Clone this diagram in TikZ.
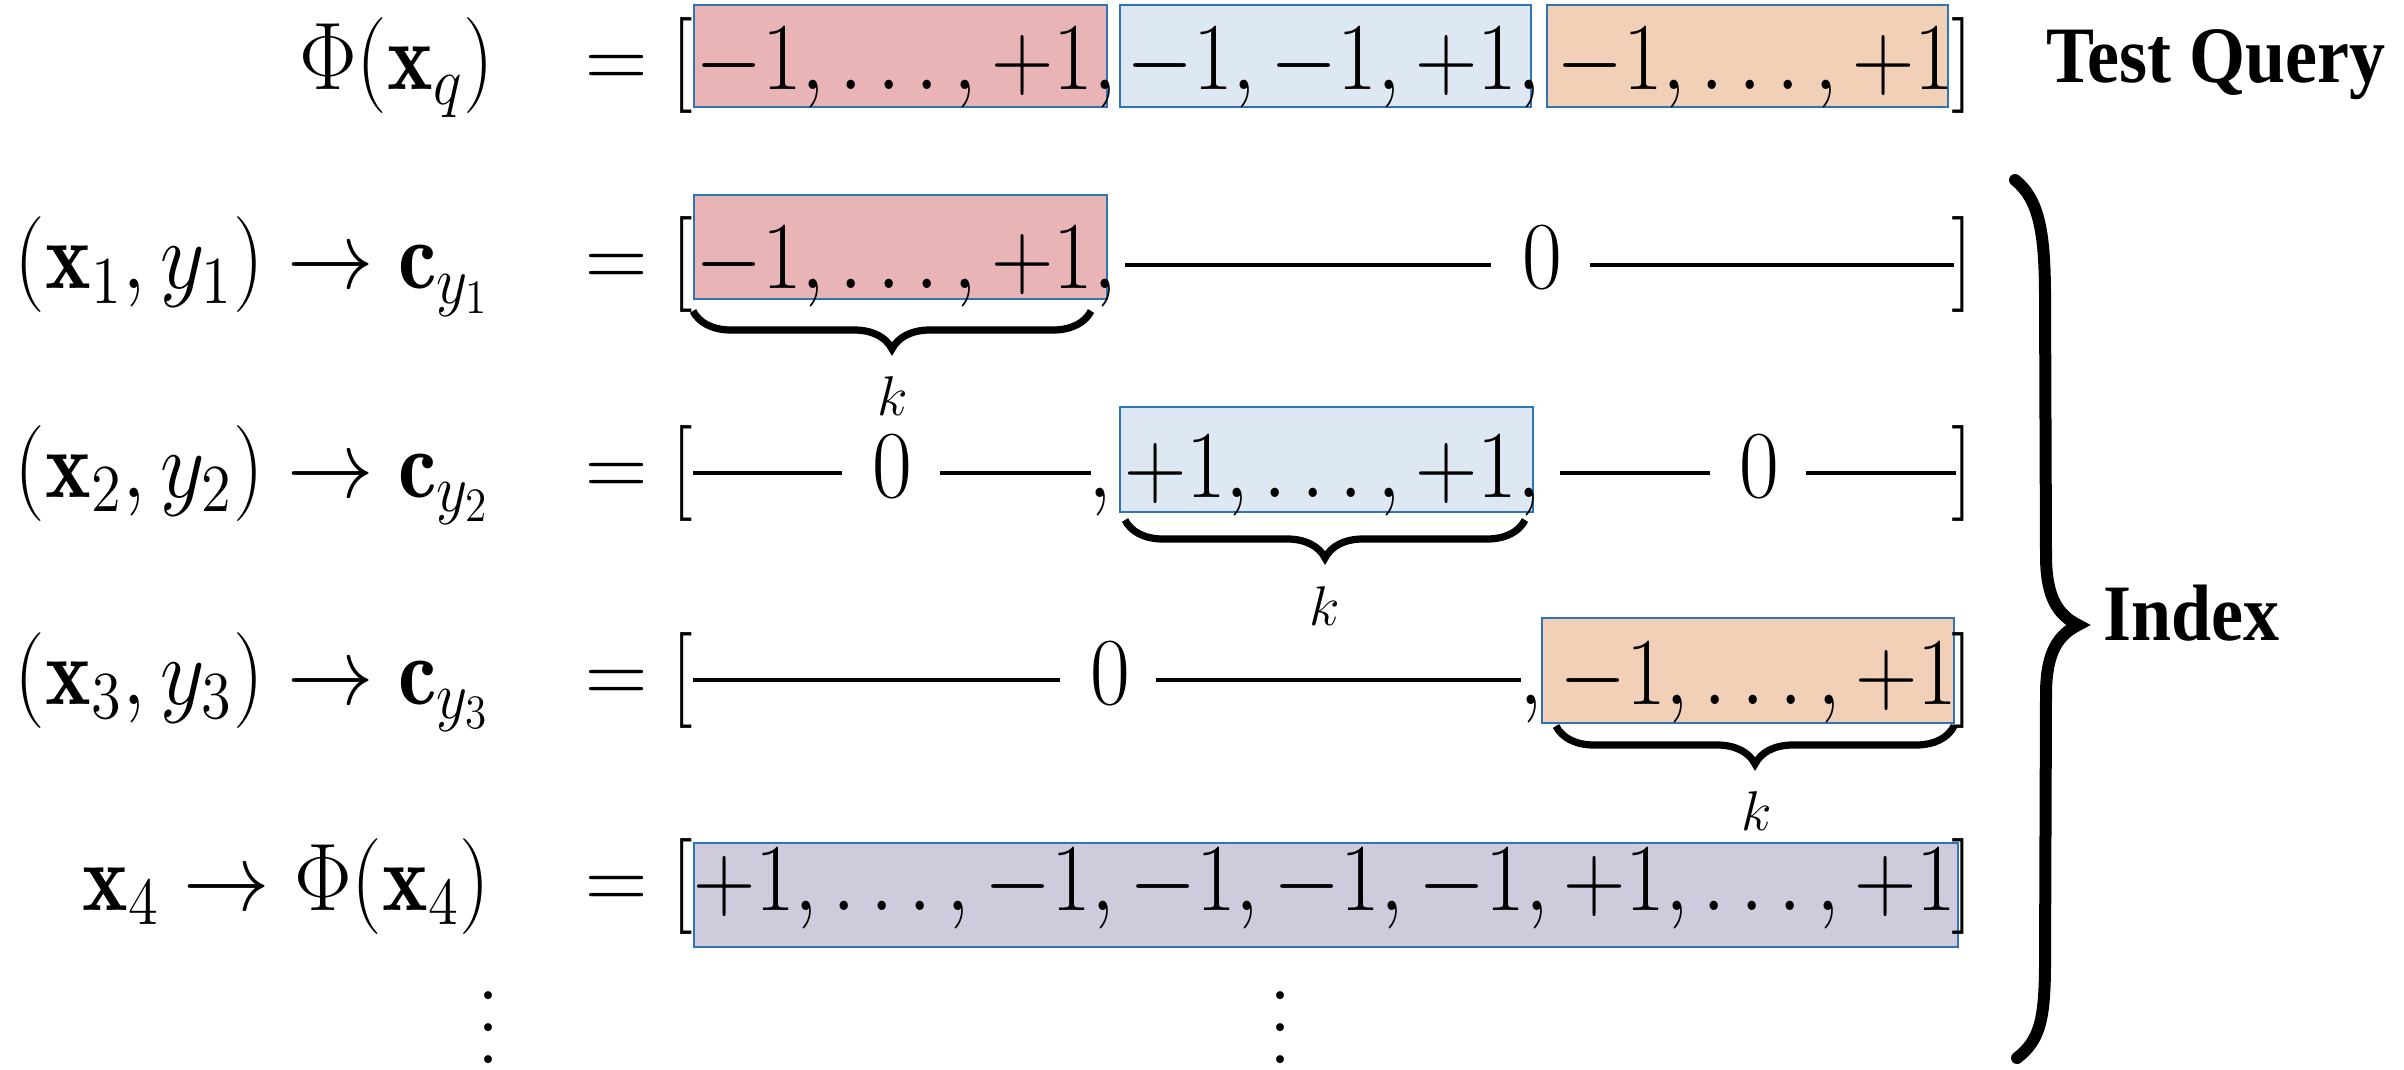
\RequirePackage{fix-cm}
\documentclass[tikz,border=0pt]{standalone}
\usepackage{fontspec}
\usepackage{graphicx}
\usetikzlibrary{decorations.pathreplacing}
\newfontfamily\tnrfont{Liberation Serif}
\definecolor{redbox}{HTML}{E8B4B5}
\definecolor{bluebox}{HTML}{DEE8F3}
\definecolor{orangebox}{HTML}{F2D0B8}
\definecolor{purplebox}{HTML}{D0CBDC}
\definecolor{boxline}{HTML}{2E75B6}
\newcommand\sqz[1]{\scalebox{0.9}[1]{$#1$}}
\newcommand\myvdots{\vbox{\baselineskip=8pt\lineskiplimit=0pt\hbox{.}\hbox{.}\hbox{.}}}
\begin{document}
\begin{tikzpicture}[x=0.25pt,y=-0.25pt,
  mth/.style={inner sep=0pt, outer sep=0pt, font=\fontsize{24}{28}\selectfont},
  lbl/.style={inner sep=0pt, outer sep=0pt, font=\tnrfont\bfseries\fontsize{20}{24}\selectfont},
  kk/.style={inner sep=0pt, font=\fontsize{14}{16}\selectfont},
  hbox/.style={draw=boxline, line width=0.5pt},
  zline/.style={line width=1pt},
  ubrace/.style={decorate, decoration={brace, mirror, amplitude=9.5pt}, line width=1.8pt},
  bigbrace/.style={line width=3pt, line cap=round}]
\useasboundingbox (0,0) rectangle (2404,1069);

% coloured boxes
\draw[hbox, fill=redbox]    (694,5)   rectangle (1107,107);
\draw[hbox, fill=bluebox]   (1120,5)  rectangle (1531,107);
\draw[hbox, fill=orangebox] (1547,5)  rectangle (1948,107);
\draw[hbox, fill=redbox]    (694,195) rectangle (1107,299);
\draw[hbox, fill=bluebox]   (1120,407) rectangle (1533,512);
\draw[hbox, fill=orangebox] (1542,618) rectangle (1954,723);
\draw[hbox, fill=purplebox] (694,843) rectangle (1958,947);

% Row q
\node[mth, anchor=base east] (lq) at (494,90) {\sqz{\Phi(\mathbf{x}_q)}};
\node[mth, anchor=base] (eqq) at (617,90) {\sqz{=}};
\node[mth, anchor=base west] (oq) at (671,90) {\sqz{[}};
\node[mth, anchor=base west] (q1) at (695,90) {\sqz{-1,\ldots,+1,}};
\node[mth, anchor=base west] (q2) at (1126,90) {\sqz{-1,-1,+1,}};
\node[mth, anchor=base west] (q3) at (1556,90) {\sqz{-1,\ldots,+1}};
\node[mth, anchor=base west] (cq) at (1951,90) {\sqz{]}};
\node[lbl, anchor=base west] (tq) at (2046,83) {\scalebox{0.9}[1]{Test Query}};

% Row 1
\node[mth, anchor=base east] (l1) at (490,289) {\sqz{(\mathbf{x}_1,y_1)\rightarrow\mathbf{c}_{y_1}}};
\node[mth, anchor=base] (eq1) at (617,289) {\sqz{=}};
\node[mth, anchor=base west] (o1) at (671,289) {\sqz{[}};
\node[mth, anchor=base west] (r1) at (695,289) {\sqz{-1,\ldots,+1,}};
\coordinate (z1a) at (1125,265); \coordinate (z1b) at (1491,265);
\node[mth, anchor=base] (n1) at (1542,289) {\sqz{0}};
\coordinate (z1c) at (1590,265); \coordinate (z1d) at (1954,265);
\draw[zline] (z1a) -- (z1b);
\draw[zline] (z1c) -- (z1d);
\node[mth, anchor=base west] (c1) at (1951,289) {\sqz{]}};
\coordinate (b1l) at (693,311); \coordinate (b1r) at (1091,311);
\draw[ubrace] (b1l) -- (b1r);
\node[kk] (k1) at (893,396) {$k$};

% Row 2
\node[mth, anchor=base east] (l2) at (490,497) {\sqz{(\mathbf{x}_2,y_2)\rightarrow\mathbf{c}_{y_2}}};
\node[mth, anchor=base] (eq2) at (617,497) {\sqz{=}};
\node[mth, anchor=base west] (o2) at (671,497) {\sqz{[}};
\coordinate (z2a) at (693,473); \coordinate (z2b) at (842,473);
\node[mth, anchor=base] (n2a) at (892,497) {\sqz{0}};
\coordinate (z2c) at (940,473); \coordinate (z2d) at (1091,473);
\draw[zline] (z2a) -- (z2b);
\draw[zline] (z2c) -- (z2d);
\node[mth, anchor=base west] (cm2) at (1088,497) {\sqz{,}};
\node[mth, anchor=base west] (r2) at (1124,497) {\sqz{+1,\ldots,+1,}};
\coordinate (z2e) at (1560,473); \coordinate (z2f) at (1710,473);
\node[mth, anchor=base] (n2b) at (1759,497) {\sqz{0}};
\coordinate (z2g) at (1806,473); \coordinate (z2h) at (1956,473);
\draw[zline] (z2e) -- (z2f);
\draw[zline] (z2g) -- (z2h);
\node[mth, anchor=base west] (c2) at (1951,497) {\sqz{]}};
\coordinate (b2l) at (1125,520); \coordinate (b2r) at (1525,520);
\draw[ubrace] (b2l) -- (b2r);
\node[kk] (k2) at (1325,606) {$k$};

% Row 3
\node[mth, anchor=base east] (l3) at (490,704) {\sqz{(\mathbf{x}_3,y_3)\rightarrow\mathbf{c}_{y_3}}};
\node[mth, anchor=base] (eq3) at (617,704) {\sqz{=}};
\node[mth, anchor=base west] (o3) at (671,704) {\sqz{[}};
\coordinate (z3a) at (693,680); \coordinate (z3b) at (1060,680);
\node[mth, anchor=base] (n3) at (1110,704) {\sqz{0}};
\coordinate (z3c) at (1156,680); \coordinate (z3d) at (1521,680);
\draw[zline] (z3a) -- (z3b);
\draw[zline] (z3c) -- (z3d);
\node[mth, anchor=base west] (cm3) at (1519,704) {\sqz{,}};
\node[mth, anchor=base west] (r3) at (1559,704) {\sqz{-1,\ldots,+1}};
\node[mth, anchor=base west] (c3) at (1951,704) {\sqz{]}};
\coordinate (b3l) at (1556,726); \coordinate (b3r) at (1954,726);
\draw[ubrace] (b3l) -- (b3r);
\node[kk] (k3) at (1757,811) {$k$};

% Row 4
\node[mth, anchor=base east] (l4) at (490,910) {\sqz{\mathbf{x}_4\rightarrow\Phi(\mathbf{x}_4)}};
\node[mth, anchor=base] (eq4) at (617,910) {\sqz{=}};
\node[mth, anchor=base west] (o4) at (671,910) {\sqz{[}};
\node[mth, anchor=base west] (r4) at (693,910) {\sqz{+1,\ldots,-1,-1,-1,-1,+1,\ldots,+1}};
\node[mth, anchor=base west] (c4) at (1951,910) {\sqz{]}};

% vertical dots
\node[mth, anchor=base] (d1) at (488,1063) {\myvdots};
\node[mth, anchor=base] (d2) at (1280,1063) {\myvdots};

% big brace and label
\draw[bigbrace] (2015,180) .. controls (2040,200) and (2045,235) .. (2045,300)
  -- (2046,560) .. controls (2047,598) and (2058,615) .. (2078,625)
  .. controls (2058,635) and (2047,652) .. (2046,690)
  -- (2045,960) .. controls (2045,1020) and (2040,1040) .. (2017,1058);
\node[lbl, anchor=base west] (ix) at (2103,640) {\scalebox{0.9}[1]{Index}};
\end{tikzpicture}
\end{document}
